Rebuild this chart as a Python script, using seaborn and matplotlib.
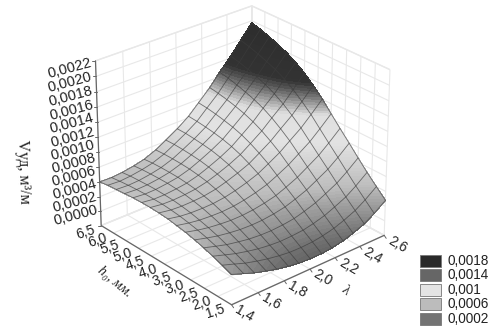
import numpy as np
import seaborn as sns
import matplotlib.pyplot as plt
from matplotlib.colors import LinearSegmentedColormap
from matplotlib.patches import Rectangle
from mpl_toolkits.mplot3d import proj3d

# lambda across, h0 along, heights in 1e-5 m3/m
lam_values = [1.4, 1.49, 1.57, 1.66, 1.74, 1.83, 1.91, 2.0, 2.09, 2.17, 2.26, 2.34, 2.43, 2.51, 2.6]
h_values = [1.5, 1.83, 2.17, 2.5, 2.83, 3.17, 3.5, 3.83, 4.17, 4.5, 4.83, 5.17, 5.5, 5.83, 6.17, 6.5]
v_rows = [
    [40, 34, 28.7, 24.1, 20.3, 17.1, 14.9, 14, 14, 15.4, 18.3, 22.6, 28.6, 36.8, 48],
    [45, 39.5, 34.4, 30.2, 26.9, 24.2, 22.5, 22.2, 22.8, 24.9, 28.4, 33.3, 39.9, 48.5, 60],
    [49.5, 44.3, 39.8, 36, 33.1, 31, 30, 30.4, 31.6, 34.4, 38.7, 44.4, 51.5, 60.7, 72.6],
    [53.5, 48.7, 44.7, 41.6, 39.2, 37.8, 37.5, 38.5, 40.5, 44.2, 49.3, 55.8, 63.7, 73.4, 85.8],
    [57, 52.7, 49.3, 46.7, 45, 44.4, 44.8, 46.6, 49.5, 54.1, 60.1, 67.5, 76.1, 86.4, 99.4],
    [60, 56, 53.3, 51.4, 50.3, 50.4, 51.7, 54.3, 58, 63.5, 70.5, 78.8, 88.3, 99.4, 113],
    [62, 58.6, 56.5, 55.4, 55, 56, 58.2, 61.7, 66.4, 72.9, 80.9, 90.1, 100.5, 112.4, 126.6],
    [64, 60.8, 59.4, 59, 59.4, 61.3, 64.4, 68.9, 74.6, 82.2, 91.2, 101.5, 112.8, 125.5, 140.4],
    [65, 62.3, 61.5, 61.8, 62.8, 65.5, 69.6, 75, 81.5, 90.1, 100.1, 111.4, 123.6, 137, 152.6],
    [65.5, 63.3, 62.9, 63.8, 65.4, 69, 73.7, 79.9, 87.4, 96.8, 107.8, 120, 133, 147, 163.2],
    [65.5, 63.4, 63.5, 65, 67, 71.3, 76.8, 83.7, 92, 102.3, 114.1, 127.1, 140.7, 155.4, 172],
    [65, 63.5, 63.9, 65.8, 68.2, 73, 79.1, 86.7, 95.5, 106.5, 119, 132.6, 147, 162.2, 179.2],
    [64, 63, 63.6, 65.7, 68.5, 73.8, 80.4, 88.4, 97.9, 109.5, 122.7, 136.9, 151.7, 167.3, 184.6],
    [63, 62.2, 63, 65.4, 68.5, 74.2, 81.3, 89.8, 99.8, 112.1, 125.8, 140.6, 156, 171.8, 189.4],
    [62, 61, 62.3, 64.8, 68.1, 74.2, 81.9, 90.9, 101.3, 114.2, 128.5, 144, 159.7, 176, 193.8],
    [60, 59.5, 60.8, 63.5, 67, 73.6, 81.6, 91, 102.2, 115.4, 130.3, 146.2, 162.5, 179, 197],
]
lam_ticks = [1.4, 1.6, 1.8, 2.0, 2.2, 2.4, 2.6]
h_ticks = [1.5, 2.0, 2.5, 3.0, 3.5, 4.0, 4.5, 5.0, 5.5, 6.0, 6.5]
v_ticks = [0.0, 0.0002, 0.0004, 0.0006, 0.0008, 0.001, 0.0012, 0.0014, 0.0016, 0.0018, 0.002, 0.0022]
legend_labels = ["0,0018", "0,0014", "0,001", "0,0006", "0,0002"]
legend_colors = ["#2a2a2a", "#666666", "#e4e4e4", "#bcbcbc", "#737373"]
cmap_stops = [(0.0, "#505050"), (0.0002, "#6e6e6e"), (0.0006, "#bcbcbc"), (0.0008, "#d0d0d0"), (0.001, "#e2e2e2"),
              (0.00125, "#e0e0e0"), (0.00142, "#7a7a7a"), (0.00155, "#333333"), (0.0022, "#2a2a2a")]

W, H = 495, 334
V_MAX = 0.0022


def comma(value, digits):
    return f"{value:.{digits}f}".replace(".", ",")


def to_pixels(ax, xs, ys, zs):
    px, py, _ = proj3d.proj_transform(np.ravel(xs), np.ravel(ys), np.ravel(zs), ax.get_proj())
    pts = ax.transData.transform(np.column_stack([px, py]))
    return pts[:, 0].reshape(np.shape(xs)), pts[:, 1].reshape(np.shape(xs))


def main():
    sns.set_theme(style="white", rc={"grid.color": "#e8e8e8", "grid.linewidth": 0.8})
    plt.rcParams["font.family"] = ["Liberation Sans", "DejaVu Sans"]

    fig = plt.figure(figsize=(W / 100, H / 100), dpi=100)
    ax = fig.add_axes([-0.020, 0.039, 1.0, 1.0], projection="3d")
    ax.view_init(elev=27.5, azim=-131)
    ax.set_proj_type("persp", focal_length=1.2)
    ax.set_box_aspect((1, 1, 0.91), zoom=1.0)
    ax.set_xlim(1.4, 2.6)
    ax.set_ylim(1.5, 6.5)
    ax.set_zlim(0, V_MAX)
    ax.set_xticks(lam_ticks)
    ax.set_yticks(h_ticks)
    ax.set_zticks(v_ticks)
    ax.set_xticklabels([])
    ax.set_yticklabels([])
    ax.set_zticklabels([])
    for axis in (ax.xaxis, ax.yaxis, ax.zaxis):
        axis.set_pane_color((1, 1, 1, 1))
        axis.pane.set_edgecolor("#e8e8e8")
        axis.line.set_color((1, 1, 1, 0))
        axis.set_tick_params(color=(1, 1, 1, 0))
    fig.canvas.draw()

    # the surface is contoured on its projected grid so the bands stay smooth
    lam_grid, h_grid = np.meshgrid(lam_values, h_values)
    v_grid = np.array(v_rows) * 1e-5
    sx, sy = to_pixels(ax, lam_grid, h_grid, v_grid)

    over = fig.add_axes([0, 0, 1, 1])
    over.set_xlim(0, W)
    over.set_ylim(0, H)
    over.axis("off")
    over.patch.set_alpha(0)

    cmap = LinearSegmentedColormap.from_list("bands", [(v / V_MAX, c) for v, c in cmap_stops])
    filled = over.contourf(sx, sy, v_grid, levels=np.linspace(0, V_MAX, 89), cmap=cmap,
                           vmin=0, vmax=V_MAX, extend="both")
    filled.set_edgecolor("face")
    filled.set_linewidth(0.3)
    over.plot(sx, sy, color="#3c3c3c", lw=0.6, alpha=0.7)
    over.plot(sx.T, sy.T, color="#3c3c3c", lw=0.6, alpha=0.7)

    # box edges
    lam0, lam1 = lam_values[0], lam_values[-1]
    h0, h1 = h_values[0], h_values[-1]
    ex, ey = to_pixels(ax, np.array([lam1, lam0, lam0, lam0]), np.array([h0, h0, h1, h1]),
                       np.array([0, 0, 0, V_MAX]))
    over.plot(ex, ey, color="#666666", lw=0.9)

    # tick labels
    for tick in lam_ticks:
        x, y = to_pixels(ax, np.array([tick]), np.array([h0]), np.array([0.0]))
        over.plot([x[0], x[0] + 2], [y[0], y[0] - 3], color="#666666", lw=0.7)
        over.text(x[0] + 13, y[0] - 9, comma(tick, 1), rotation=-30, fontsize=10,
                  color="#222222", ha="center", va="center")
    for tick in h_ticks:
        x, y = to_pixels(ax, np.array([lam0]), np.array([tick]), np.array([0.0]))
        over.text(x[0] - 16, y[0] - 7, comma(tick, 1), rotation=18, fontsize=10,
                  color="#222222", ha="center", va="center")
    for tick in v_ticks:
        x, y = to_pixels(ax, np.array([lam0]), np.array([h1]), np.array([tick]))
        over.plot([x[0] - 3, x[0]], [y[0], y[0]], color="#666666", lw=0.7)
        over.text(x[0] - 26, y[0] + 10 - 18 * tick / V_MAX, comma(tick, 4), rotation=15,
                  fontsize=10.5, color="#222222", ha="center", va="center")

    # axis names
    over.text(23, H - 172, "Vуд, м³/м", rotation=-88, fontsize=11.5, family="Liberation Serif",
              color="#222222", ha="center", va="center")
    over.text(115, H - 282, "h₀, мм.", rotation=-40, fontsize=10, style="italic",
              family=["Liberation Serif", "DejaVu Serif"], color="#222222", ha="center", va="center")
    over.text(345, H - 290, "λ", rotation=-40, fontsize=10, family="Liberation Serif",
              color="#222222", ha="center", va="center")

    for i, (label, colour) in enumerate(zip(legend_labels, legend_colors)):
        top = 255 + 14.4 * i
        over.add_patch(Rectangle((420, H - top - 12), 21, 12, facecolor=colour, edgecolor="#777777", lw=0.6))
        over.text(447, H - top - 6, label, fontsize=9.8, color="#222222", ha="left", va="center")

    fig.savefig("out.png", dpi=100)


if __name__ == "__main__":
    main()
